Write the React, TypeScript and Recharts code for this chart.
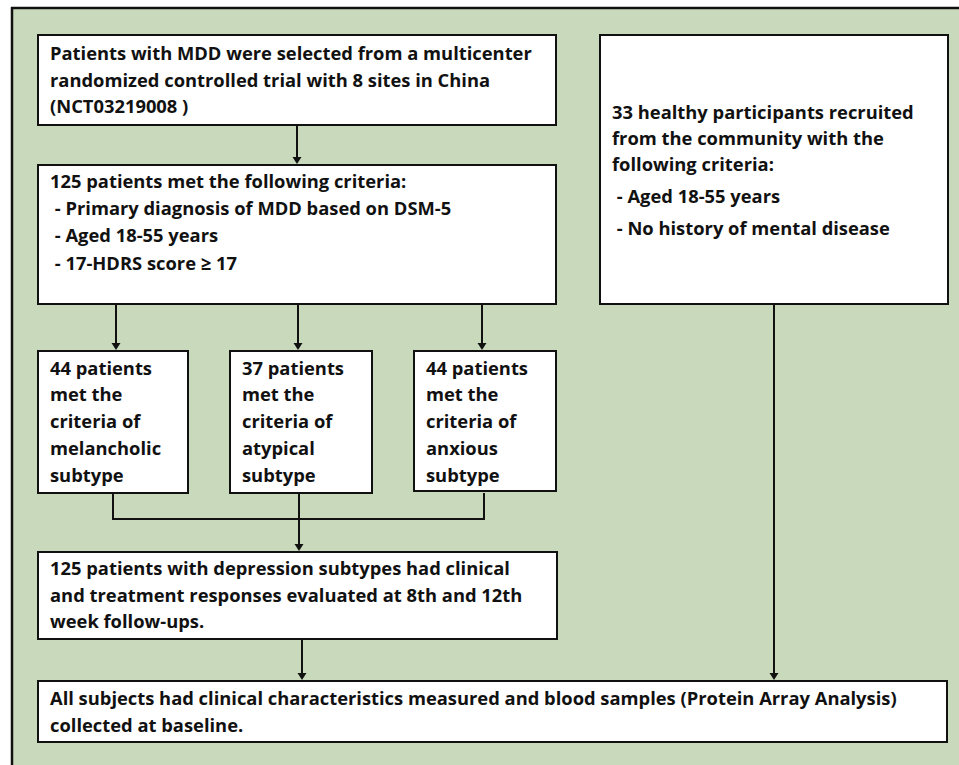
import { ReferenceArea, ReferenceLine, Scatter, ScatterChart, XAxis, YAxis } from "recharts";

const W = 959;
const H = 765;
const GREEN = "#C9DABC";
const INK = "#111111";

const trialLines = [
  "Patients with MDD were selected from a multicenter",
  "randomized controlled trial with 8 sites in China",
  "(NCT03219008 )",
];
const criteriaLines = [
  "125 patients met the following criteria:",
  " - Primary diagnosis of MDD based on DSM-5",
  " - Aged 18-55 years",
  " - 17-HDRS score \u2265 17",
];
const melancholicLines = ["44 patients", "met the", "criteria of", "melancholic", "subtype"];
const atypicalLines = ["37 patients", "met the", "criteria of", "atypical", "subtype"];
const anxiousLines = ["44 patients", "met the", "criteria of", "anxious", "subtype"];
const responseLines = [
  "125 patients with depression subtypes had clinical",
  "and treatment responses evaluated at 8th and 12th",
  "week follow-ups.",
];
const baselineLines = [
  "All subjects had clinical characteristics measured and blood samples (Protein Array Analysis)",
  "collected at baseline.",
];
const healthyLines = [
  "33 healthy participants recruited",
  "from the community with the",
  "following criteria:",
  " - Aged 18-55 years",
  " - No history of mental disease",
];

// diagram layout, in the chart's own x / y units
const boxes = [
  { id: "trial", lines: trialLines, x1: 38, x2: 556, y1: 35, y2: 125, rows: [25, 52, 78] },
  { id: "criteria", lines: criteriaLines, x1: 38, x2: 556, y1: 165, y2: 304, rows: [23, 50, 77, 105] },
  { id: "melancholic", lines: melancholicLines, x1: 38, x2: 188, y1: 351, y2: 493, rows: [24, 50, 77, 104, 131] },
  { id: "atypical", lines: atypicalLines, x1: 230, x2: 372, y1: 351, y2: 493, rows: [24, 50, 77, 104, 131] },
  { id: "anxious", lines: anxiousLines, x1: 414, x2: 556, y1: 351, y2: 491, rows: [24, 50, 77, 104, 131] },
  { id: "responses", lines: responseLines, x1: 38, x2: 557, y1: 552, y2: 639, rows: [23, 50, 76] },
  { id: "baseline", lines: baselineLines, x1: 38, x2: 947, y1: 681, y2: 742, rows: [24, 51] },
  { id: "healthy", lines: healthyLines, x1: 600, x2: 948, y1: 35, y2: 304, rows: [84, 110, 136, 168, 200] },
];

const arrows = [
  { x: 297, from: 125, to: 165 },
  { x: 116, from: 304, to: 351 },
  { x: 298, from: 304, to: 351 },
  { x: 482, from: 304, to: 351 },
  { x: 299, from: 519, to: 552 },
  { x: 302, from: 639, to: 681 },
  { x: 774, from: 304, to: 681 },
];

const joinLegs = [113, 299, 484];
const joinTop = 493;
const joinY = 519;

const arrowTips = arrows.map((a) => ({ x: a.x, y: a.to }));

function BoxText(props: any, lines: string[], rows: number[]) {
  const vb = props.viewBox;
  return (
    <g>
      {lines.map((line, i) => (
        <text
          key={i}
          x={vb.x + 12}
          y={vb.y + rows[i]}
          fontFamily="'Open Sans', sans-serif"
          fontWeight={700}
          fontSize={18.35}
          fill={INK}
          xmlSpace="preserve"
          style={{ whiteSpace: "pre" }}
        >
          {line}
        </text>
      ))}
    </g>
  );
}

function ArrowHead(props: any) {
  const { cx, cy } = props;
  return <polygon points={`${cx - 4.5},${cy - 8} ${cx + 4.5},${cy - 8} ${cx},${cy - 1}`} fill={INK} />;
}

export default function App() {
  return (
    <div style={{ position: "absolute", left: 0, top: 0, width: W, height: H, background: "#fff" }}>
      <ScatterChart width={W} height={H} margin={{ top: 0, right: 0, bottom: 0, left: 0 }}>
        <XAxis type="number" dataKey="x" domain={[0, W]} hide allowDataOverflow />
        <YAxis type="number" dataKey="y" domain={[0, H]} reversed hide allowDataOverflow />
        <ReferenceArea x1={12} x2={W} y1={8} y2={H} fill={GREEN} fillOpacity={1} stroke="none" ifOverflow="visible" />
        <ReferenceLine segment={[{ x: 12, y: 7 }, { x: 12, y: H }]} stroke={INK} strokeWidth={2.5} ifOverflow="visible" />
        <ReferenceLine segment={[{ x: 11, y: 8 }, { x: W, y: 8 }]} stroke={INK} strokeWidth={2.5} ifOverflow="visible" />
        {boxes.map((b) => (
          <ReferenceArea
            key={b.id}
            x1={b.x1}
            x2={b.x2}
            y1={b.y1}
            y2={b.y2}
            fill="#ffffff"
            fillOpacity={1}
            stroke={INK}
            strokeWidth={2}
            ifOverflow="visible"
            label={(p: any) => BoxText(p, b.lines, b.rows)}
          />
        ))}
        {arrows.map((a, i) => (
          <ReferenceLine
            key={`arrow-${i}`}
            segment={[{ x: a.x, y: a.from }, { x: a.x, y: a.to - 7 }]}
            stroke={INK}
            strokeWidth={2}
            ifOverflow="visible"
          />
        ))}
        {joinLegs.map((x) => (
          <ReferenceLine
            key={`leg-${x}`}
            segment={[{ x, y: joinTop }, { x, y: joinY }]}
            stroke={INK}
            strokeWidth={2}
            ifOverflow="visible"
          />
        ))}
        <ReferenceLine
          segment={[{ x: joinLegs[0] - 1, y: joinY }, { x: joinLegs[2] + 1, y: joinY }]}
          stroke={INK}
          strokeWidth={2}
          ifOverflow="visible"
        />
        <Scatter data={arrowTips} shape={ArrowHead} isAnimationActive={false} />
      </ScatterChart>
    </div>
  );
}
